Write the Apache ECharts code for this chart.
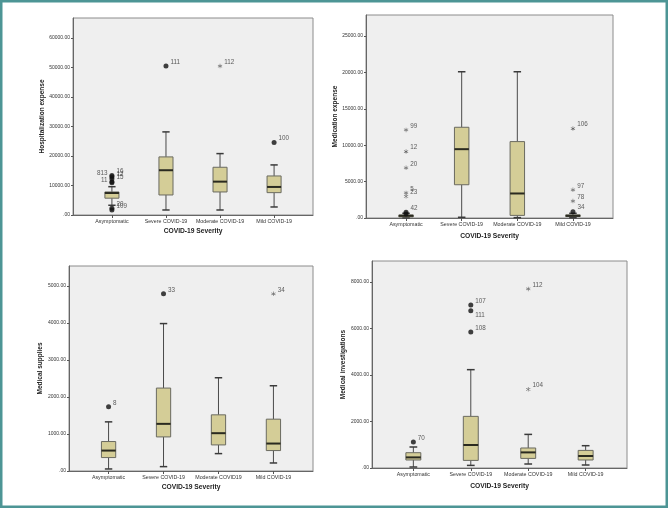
<!DOCTYPE html>
<html>
<head>
<meta charset="utf-8">
<script src="https://cdn.jsdelivr.net/npm/echarts@6/dist/echarts.min.js"></script>
<style>
  html, body { margin: 0; padding: 0; background: #fff; }
  #chart { width: 668px; height: 508px; }
</style>
</head>
<body>
<div id="chart"></div>
<script>
const categories = ['Asymptomatic', 'Severe COVID-19', 'Moderate COVID-19', 'Mild COVID-19']
const categoriesSupplies = ['Asymptomatic', 'Severe COVID-19', 'Moderate COVID19', 'Mild COVID-19']

// box rows: [min, Q1, median, Q3, max]
// outlier rows: [category index, value, case label]
const hospTicks = [0, 10000, 20000, 30000, 40000, 50000, 60000]
const hospBoxes = [
  [3300, 5700, 7450, 7810, 9600],
  [1700, 6790, 15180, 19700, 28180],
  [1700, 7810, 11310, 16190, 20820],
  [2720, 7580, 9510, 13240, 16980]
]
const hospCircles = [
  [0, 13400, '16'], [0, 13000, '813'], [0, 12300, '12'], [0, 11300, '15'], [0, 10900, '11'],
  [0, 2300, '20'], [0, 1700, '109'],
  [1, 50500, '111'],
  [3, 24550, '100']
]
const hospStars = [
  [2, 50500, '112']
]

const medTicks = [0, 5000, 10000, 15000, 20000, 25000]
const medBoxes = [
  [20, 150, 300, 420, 650],
  [100, 4570, 9460, 12470, 20100],
  [50, 360, 3370, 10500, 20100],
  [40, 200, 300, 430, 650]
]
const medCircles = [
  [0, 780, '42'], [0, 560, ''],
  [3, 860, '34']
]
const medStars = [
  [0, 12100, '99'], [0, 9130, '12'], [0, 6900, '20'], [0, 3450, '5'], [0, 2980, '23'],
  [3, 12290, '106'], [3, 3880, '97'], [3, 2330, '78']
]

const supTicks = [0, 1000, 2000, 3000, 4000, 5000]
const supBoxes = [
  [55, 363, 552, 796, 1328],
  [118, 921, 1274, 2241, 3984],
  [470, 705, 1022, 1518, 2520],
  [217, 552, 742, 1401, 2304]
]
const supCircles = [
  [0, 1734, '8'],
  [1, 4789, '33']
]
const supStars = [
  [3, 4789, '34']
]

const invTicks = [0, 2000, 4000, 6000, 8000]
const invBoxes = [
  [43, 344, 456, 658, 903],
  [112, 327, 989, 2220, 4228],
  [172, 413, 671, 860, 1445],
  [129, 344, 516, 757, 959]
]
const invCircles = [
  [0, 1118, '70'],
  [1, 7011, '107'], [1, 6766, '111'], [1, 5849, '108']
]
const invStars = [
  [2, 7699, '112'], [2, 3381, '104']
]

const FONT = 'Liberation Sans, Arial, sans-serif'
const BOX_W = 0.26
const CAP_W = 0.135
const PAD = 0.72
const STAR = 'path://M-0.6,-5L0.6,-5L0.6,5L-0.6,5Z M4.03,-3.02L4.63,-1.98L-4.03,3.02L-4.63,1.98Z M4.63,1.98L4.03,3.02L-4.63,-1.98L-4.03,-3.02Z'

// labels that SPSS puts left of / below the point
const labelLeft = { '0:813': true, '0:11': true }
const labelBelow = { '3:111': true }

const panels = [
  { grid: { left: 73, top: 18, width: 240, height: 197 }, yMax: 66800, ticks: hospTicks, yName: 'Hospitalization expense',
    cats: categories, boxes: hospBoxes, circles: hospCircles, stars: hospStars, gapX: 13, gapY: 26 },
  { grid: { left: 366, top: 15, width: 247, height: 203 }, yMax: 27900, ticks: medTicks, yName: 'Medication expense',
    cats: categories, boxes: medBoxes, circles: medCircles, stars: medStars, gapX: 14.5, gapY: 26 },
  { grid: { left: 69, top: 266, width: 244, height: 205 }, yMax: 5540, ticks: supTicks, yName: 'Medical supplies',
    cats: categoriesSupplies, boxes: supBoxes, circles: supCircles, stars: supStars, gapX: 13, gapY: 23 },
  { grid: { left: 372, top: 261, width: 255, height: 207 }, yMax: 8900, ticks: invTicks, yName: 'Medical investigations',
    cats: categories, boxes: invBoxes, circles: invCircles, stars: invStars, gapX: 14.5, gapY: 24 }
]

function renderBox(params, api) {
  const x = api.value(0)
  const lo = api.value(1), q1 = api.value(2), med = api.value(3), q3 = api.value(4), hi = api.value(5)
  const pLo = api.coord([x, lo]), pQ1 = api.coord([x, q1]), pQ3 = api.coord([x, q3]), pHi = api.coord([x, hi])
  const bl = api.coord([x - BOX_W / 2, q1]), tr = api.coord([x + BOX_W / 2, q3])
  const ml = api.coord([x - BOX_W / 2, med]), mr = api.coord([x + BOX_W / 2, med])
  const cl = api.coord([x - CAP_W / 2, 0]), cr = api.coord([x + CAP_W / 2, 0])
  const wStyle = { stroke: '#4a4a4a', lineWidth: 1 }
  const cStyle = { stroke: '#3a3a3a', lineWidth: 1.5 }
  return {
    type: 'group',
    children: [
      { type: 'line', shape: { x1: pHi[0], y1: pHi[1], x2: pQ3[0], y2: pQ3[1] }, style: wStyle },
      { type: 'line', shape: { x1: pLo[0], y1: pLo[1], x2: pQ1[0], y2: pQ1[1] }, style: wStyle },
      { type: 'line', shape: { x1: cl[0], y1: pHi[1], x2: cr[0], y2: pHi[1] }, style: cStyle },
      { type: 'line', shape: { x1: cl[0], y1: pLo[1], x2: cr[0], y2: pLo[1] }, style: cStyle },
      { type: 'rect', shape: { x: bl[0], y: tr[1], width: tr[0] - bl[0], height: bl[1] - tr[1] },
        style: { fill: '#d4cd97', stroke: '#6a6a60', lineWidth: 1 } },
      { type: 'line', shape: { x1: ml[0], y1: ml[1], x2: mr[0], y2: mr[1] }, style: { stroke: '#2a2a20', lineWidth: 2 } }
    ]
  }
}

function outlierLabel() {
  return {
    show: true,
    position: 'right',
    distance: 2,
    offset: [0, -4],
    fontSize: 6.3,
    fontFamily: FONT,
    color: '#333',
    formatter: p => p.value[2]
  }
}

function outlierData(rows, panelIdx) {
  return rows.map(r => {
    const key = panelIdx + ':' + r[2]
    const item = { value: r }
    if (labelLeft[key]) item.label = { position: 'left', offset: [0, -3] }
    if (labelBelow[key]) item.label = { offset: [0, 5] }
    return item
  })
}

const grids = [], xAxes = [], yAxes = [], series = []
panels.forEach((p, i) => {
  grids.push(Object.assign({
    show: true, backgroundColor: '#efefef', borderColor: '#8c8c8c', borderWidth: 1
  }, p.grid))
  xAxes.push({
    type: 'value', gridIndex: i, min: -PAD, max: p.cats.length - 1 + PAD,
    name: 'COVID-19 Severity', nameLocation: 'middle', nameGap: p.gapX,
    nameTextStyle: { fontSize: 6.7, fontWeight: 'bold', fontFamily: FONT, color: '#222' },
    splitLine: { show: false },
    axisLine: { show: true, onZero: false, lineStyle: { color: '#666', width: 1 } },
    axisTick: { show: true, length: 3, customValues: p.cats.map((c, k) => k), lineStyle: { color: '#555' } },
    axisLabel: {
      customValues: p.cats.map((c, k) => k), margin: 4, fontSize: 5.3, fontFamily: FONT, color: '#333',
      formatter: v => p.cats[Math.round(v)] || ''
    }
  })
  yAxes.push({
    type: 'value', gridIndex: i, min: 0, max: p.yMax,
    name: p.yName, nameLocation: 'middle', nameGap: p.gapY,
    nameTextStyle: { fontSize: 6.5, fontWeight: 'bold', fontFamily: FONT, color: '#222' },
    splitLine: { show: false },
    axisLine: { show: true, onZero: false, lineStyle: { color: '#666', width: 1 } },
    axisTick: { show: true, length: 2, customValues: p.ticks, lineStyle: { color: '#555' } },
    axisLabel: {
      customValues: p.ticks, margin: 3, fontSize: 5, fontFamily: FONT, color: '#333',
      formatter: v => v === 0 ? '.00' : v.toFixed(2)
    }
  })
  series.push({
    type: 'custom', xAxisIndex: i, yAxisIndex: i,
    renderItem: renderBox,
    encode: { x: 0, y: [1, 2, 3, 4, 5] },
    data: p.boxes.map((b, k) => [k].concat(b)),
    silent: true
  })
  series.push({
    type: 'scatter', xAxisIndex: i, yAxisIndex: i,
    symbol: 'circle', symbolSize: 5,
    itemStyle: { color: '#111' },
    label: outlierLabel(),
    data: outlierData(p.circles, i),
    silent: true, z: 3
  })
  series.push({
    type: 'scatter', xAxisIndex: i, yAxisIndex: i,
    symbol: STAR, symbolSize: 4.5,
    itemStyle: { color: '#444' },
    label: outlierLabel(),
    data: outlierData(p.stars, i),
    silent: true, z: 3
  })
})

const chart = echarts.init(document.getElementById('chart'), null, { renderer: 'canvas' })
chart.setOption({
  backgroundColor: '#fff',
  animation: false,
  grid: grids,
  xAxis: xAxes,
  yAxis: yAxes,
  series: series,
  graphic: [{
    type: 'rect', silent: true, z: 100,
    shape: { x: 1.25, y: 1.25, width: 665.5, height: 505.5 },
    style: { fill: 'none', stroke: '#4d9595', lineWidth: 2.5 }
  }]
})
window.addEventListener('resize', () => chart.resize())
</script>
</body>
</html>
